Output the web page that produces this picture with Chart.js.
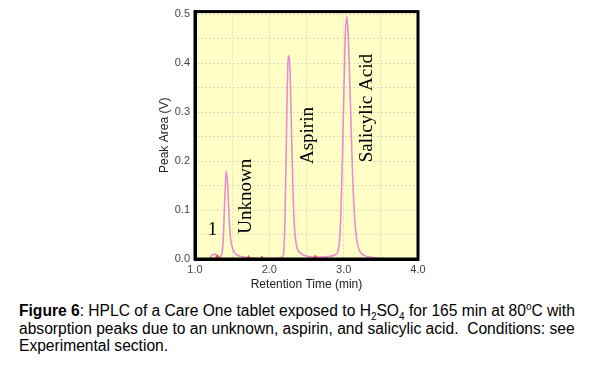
<!DOCTYPE html>
<html>
<head>
<meta charset="utf-8">
<script src="https://cdn.jsdelivr.net/npm/chart.js@4.4.1/dist/chart.umd.min.js"></script>
<style>
  body { margin: 0; background: #fff; }
  #wrap { position: relative; width: 599px; height: 366px; }
  #box { position: absolute; left: 0; top: 0; width: 599px; height: 292px; }
  #caption {
    position: absolute; left: 19px; top: 302px; width: 570px;
    font-family: "Liberation Sans", Arial, sans-serif; font-size: 15.6px;
    line-height: 17.5px; color: #000;
  }
  #caption sub, #caption sup { font-size: 10px; line-height: 0; }
</style>
</head>
<body>
<div id="wrap">
  <div id="box"><canvas id="hplcChart"></canvas></div>
  <div id="caption"><b>Figure 6</b>: HPLC of a Care One tablet exposed to H<sub>2</sub>SO<sub>4</sub> for 165 min at 80<sup>o</sup>C with absorption peaks due to an unknown, aspirin, and salicylic acid.&nbsp; Conditions: see Experimental section.</div>
</div>
<script>
// retention time (min) and detector signal (V)
const times = [1.20, 1.23, 1.27, 1.30, 1.33, 1.36, 1.38, 1.40, 1.42, 1.44, 1.46, 1.48, 1.51, 1.55, 1.62, 1.70, 1.80, 1.90, 2.00, 2.10, 2.16, 2.19, 2.21, 2.23, 2.25, 2.265, 2.28, 2.30, 2.32, 2.34, 2.37, 2.42, 2.50, 2.60, 2.70, 2.80, 2.88, 2.93, 2.96, 2.99, 3.02, 3.04, 3.06, 3.09, 3.12, 3.15, 3.18, 3.22, 3.28, 3.35, 3.45, 3.53]
const signal = [0.000, 0.008, 0.010, 0.006, 0.004, 0.010, 0.040, 0.120, 0.180, 0.150, 0.080, 0.040, 0.020, 0.010, 0.005, 0.003, 0.002, 0.001, 0.001, 0.001, 0.003, 0.010, 0.080, 0.250, 0.400, 0.415, 0.380, 0.250, 0.130, 0.060, 0.025, 0.012, 0.006, 0.004, 0.004, 0.005, 0.008, 0.020, 0.080, 0.250, 0.450, 0.495, 0.460, 0.320, 0.170, 0.080, 0.035, 0.015, 0.007, 0.004, 0.002, 0.001]

// baseline and integration marks
const baseTimes = [1.28, 3.53]
const baseValues = [0, 0]
const markTimes = [1.30, 1.72, 1.90, 2.62]
const markValues = [0.004, 0.002, 0.001, 0.003]

const xTicks = [1.0, 2.0, 3.0, 4.0]
const yTicks = [0.0, 0.1, 0.2, 0.3, 0.4, 0.5]

// peak labels (text, time, signal)
const peakLabels = [
    { text: '1', x: 1.235, y: 0.06, rot: false },
    { text: 'Unknown', x: 1.68, y: 0.128, rot: true },
    { text: 'Aspirin', x: 2.52, y: 0.252, rot: true },
    { text: 'Salicylic Acid', x: 3.32, y: 0.308, rot: true }
]

function toPoints(xs, ys) {
    return xs.map((x, i) => ({ x: x, y: ys[i] }))
}

const framePlugin = {
    id: 'frame',
    beforeDraw: function (chart) {
        const a = chart.chartArea
        const ctx = chart.ctx
        ctx.save()
        ctx.fillStyle = '#ffffc6'
        ctx.fillRect(a.left, a.top, a.right - a.left, a.bottom - a.top)
        ctx.restore()
    },
    afterDatasetsDraw: function (chart) {
        const a = chart.chartArea
        const ctx = chart.ctx
        const xs = chart.scales.x, ys = chart.scales.y
        ctx.save()
        ctx.fillStyle = '#000'
        ctx.font = '19px "Liberation Serif", "Times New Roman", serif'
        ctx.textAlign = 'center'
        ctx.textBaseline = 'middle'
        peakLabels.forEach(l => {
            const px = xs.getPixelForValue(l.x)
            const py = ys.getPixelForValue(l.y)
            ctx.save()
            ctx.translate(px, py)
            if (l.rot) ctx.rotate(-Math.PI / 2)
            ctx.fillText(l.text, 0, 0)
            ctx.restore()
        })
        ctx.strokeStyle = '#000'
        ctx.lineWidth = 3
        ctx.strokeRect(a.left, a.top, a.right - a.left, a.bottom - a.top)
        ctx.restore()
    }
}

var ctx = document.getElementById('hplcChart').getContext('2d')
var hplcChart = new Chart(ctx, {
    type: 'line',
    data: {
        datasets: [{
            label: 'Signal',
            data: toPoints(times, signal),
            borderColor: '#ea8cd4',
            borderWidth: 1.6,
            pointRadius: 0,
            cubicInterpolationMode: 'monotone',
            order: 1
        }, {
            label: 'Baseline',
            data: toPoints(baseTimes, baseValues),
            borderColor: '#e8403c',
            borderWidth: 1.5,
            pointRadius: 0,
            order: 2
        }, {
            label: 'Marks',
            type: 'scatter',
            data: toPoints(markTimes, markValues),
            backgroundColor: '#f06040',
            borderColor: '#f06040',
            pointStyle: 'triangle',
            pointRadius: 2.5,
            order: 0
        }]
    },
    options: {
        responsive: true,
        maintainAspectRatio: false,
        animation: false,
        layout: { padding: { top: 11, right: 181, bottom: 0, left: 157 } },
        plugins: { legend: { display: false }, tooltip: { enabled: false } },
        scales: {
            x: {
                type: 'linear',
                min: 1.0,
                max: 4.0,
                afterFit: function (s) { s.height = 33 },
                grid: {
                    color: '#dcdcc4',
                    drawTicks: false
                },
                border: { color: '#000', width: 3, dash: [2, 2] },
                ticks: {
                    stepSize: 0.5,
                    padding: 4,
                    color: '#444',
                    font: { family: '"Liberation Sans", Arial, sans-serif', size: 11 },
                    maxRotation: 0,
                    callback: function (v) {
                        return xTicks.some(t => Math.abs(t - v) < 1e-6) ? v.toFixed(1) : ''
                    }
                },
                title: {
                    display: true,
                    text: 'Retention Time (min)',
                    color: '#222',
                    padding: { top: 0, bottom: 0 },
                    font: { family: '"Liberation Sans", Arial, sans-serif', size: 12 }
                }
            },
            y: {
                min: 0,
                max: 0.505,
                afterFit: function (s) { s.width = 38 },
                afterBuildTicks: function (s) {
                    const t = []
                    for (let i = 0; i <= 10; i++) t.push({ value: i * 0.05 })
                    s.ticks = t
                },
                grid: {
                    color: '#dcdcc4',
                    drawTicks: false
                },
                border: { color: '#000', width: 3, dash: [2, 2] },
                ticks: {
                    padding: 5,
                    color: '#444',
                    font: { family: '"Liberation Sans", Arial, sans-serif', size: 11 },
                    callback: function (v) {
                        return yTicks.some(t => Math.abs(t - v) < 1e-6) ? v.toFixed(1) : ''
                    }
                },
                title: {
                    display: true,
                    text: 'Peak Area (V)',
                    color: '#222',
                    padding: { top: 0, bottom: 0 },
                    font: { family: '"Liberation Sans", Arial, sans-serif', size: 12 }
                }
            }
        }
    },
    plugins: [framePlugin]
});
</script>
</body>
</html>
